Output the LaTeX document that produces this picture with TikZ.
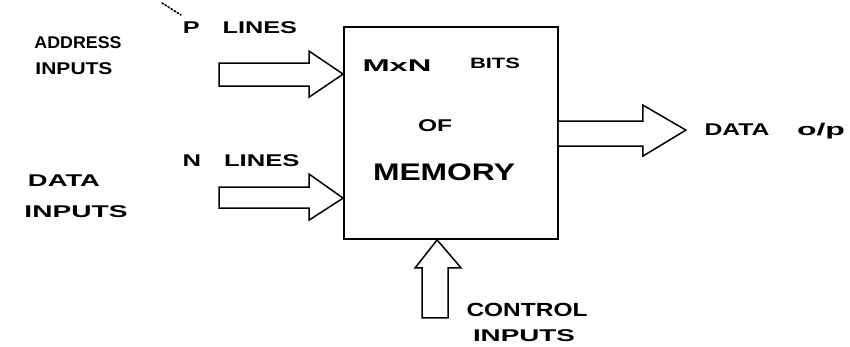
\documentclass[tikz,border=0pt]{standalone}
\usepackage{fontspec}
\usepackage{graphicx}
\setmainfont{Liberation Sans}
\usetikzlibrary{calc}
\newcommand{\hw}[2]{\resizebox{#1}{\height}{#2}}
\begin{document}
\begin{tikzpicture}[x=1pt,y=-1pt,
  lbl/.style={inner sep=0pt, anchor=center, font=\fontsize{17}{17}\selectfont\bfseries},
  blk/.style={draw=black, line width=1.5pt, line join=miter, fill=white},
  membox/.style={draw=black, line width=1.8pt, minimum width=214pt, minimum height=212pt, inner sep=0pt}]
\useasboundingbox[fill=white] (0,0) rectangle (850,346);

\node[membox] (mem) at (451,133) {};

% address input arrow
\coordinate (atip) at ($(mem.north west)+(0,48)$);
\draw[blk] (atip) -- ++(-34,-23) -- ++(0,12) -- ++(-90,0) -- ++(0,23) -- ++(90,0) -- ++(0,11) -- cycle;

% data input arrow
\coordinate (dtip) at ($(mem.north west)+(0,172)$);
\draw[blk] (dtip) -- ++(-34,-24) -- ++(0,13) -- ++(-90,0) -- ++(0,21) -- ++(90,0) -- ++(0,12) -- cycle;

% output arrow
\coordinate (ostart) at ($(mem.north east)+(0,95)$);
\coordinate (otip) at ($(mem.north east)+(127,104)$);
\draw[blk] (ostart) -- ++(84,0) -- ++(0,-16) -- (otip) -- ($(otip)+(-43,26)$) -- ++(0,-10) -- ++(-84,0);

% control arrow
\coordinate (ctip) at ($(mem.south west)+(94,0)$);
\draw[blk] (ctip) -- ++(24,28) -- ++(-13,0) -- ++(0,50) -- ++(-26,0) -- ++(0,-50) -- ++(-7,0) -- cycle;

% small dotted mark
\draw[line width=1.6pt, dotted, line cap=round] (162,3) -- (181,15);

% labels
\node[lbl] (addr) at (78,43) {\hw{87pt}{ADDRESS}};
\node[lbl] (addrin) at (74,69) {\hw{77pt}{INPUTS}};
\node[lbl] (plines) at (240,28) {\hw{114pt}{P\hspace{0.9em}LINES}};
\node[lbl] (nlines) at (241,161) {\hw{117pt}{N\hspace{0.9em}LINES}};
\node[lbl] (data) at (64,181) {\hw{72pt}{DATA}};
\node[lbl] (datain) at (76,212) {\hw{103pt}{INPUTS}};
\node[lbl] (mxn) at (397,66) {\hw{69pt}{MxN}};
\node[lbl, font=\fontsize{15}{15}\selectfont\bfseries] (bits) at (495,63) {\hw{50pt}{BITS}};
\node[lbl] (of) at (435,126) {\hw{34pt}{OF}};
\node[lbl, font=\fontsize{24}{24}\selectfont\bfseries] (memory) at (444,172) {\hw{142pt}{MEMORY}};
\node[lbl] (dataout) at (737,130) {\hw{65pt}{DATA}};
\node[lbl] (op) at (821,131) {\hw{48pt}{o/p}};
\node[lbl, font=\fontsize{19}{19}\selectfont\bfseries] (ctrl) at (527,310) {\hw{121pt}{CONTROL}};
\node[lbl] (ctrlin) at (524,336) {\hw{102pt}{INPUTS}};
\end{tikzpicture}
\end{document}
